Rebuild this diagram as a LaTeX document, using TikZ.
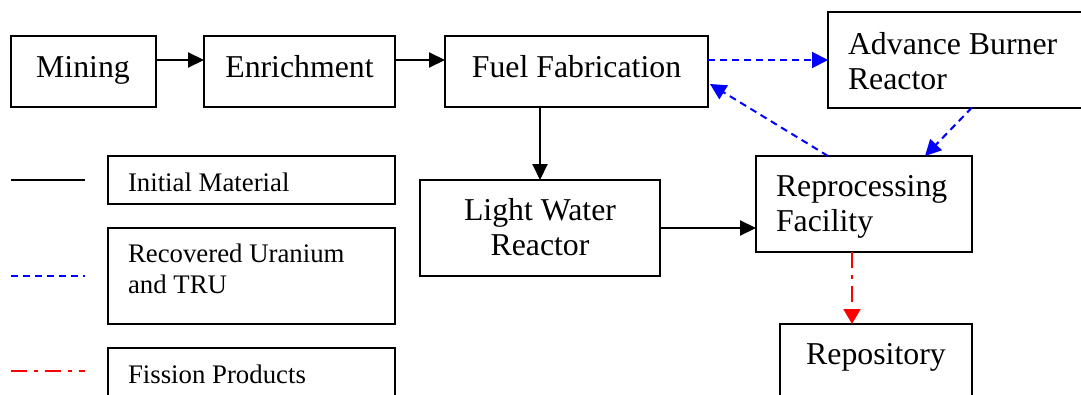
\documentclass[tikz,border=0pt]{standalone}
\usepackage{fontspec}
\setmainfont{Liberation Serif}
\usetikzlibrary{arrows.meta}
\begin{document}
\begin{tikzpicture}[x=1pt,y=-1pt,
  box/.style={draw=black, line width=2pt, rectangle, inner sep=0pt, outer sep=0pt},
  big/.style={font=\fontsize{31.8}{35.8}\selectfont, inner sep=0pt, outer sep=0pt},
  small/.style={font=\fontsize{26.8}{31}\selectfont, inner sep=0pt, outer sep=0pt},
  solidarrow/.style={draw=black, line width=2pt, -{Triangle[length=16pt,width=15pt]}},
  bluearrow/.style={draw=blue, line width=2pt, dash pattern=on 7pt off 5pt, -{Triangle[length=16pt,width=16pt]}},
  redarrow/.style={draw=red, line width=2pt, dash pattern=on 16pt off 7pt on 4pt off 7pt, -{Triangle[length=15pt,width=17pt]}},
  solidline/.style={draw=black, line width=2pt},
  blueline/.style={draw=blue, line width=2pt, dash pattern=on 7pt off 5pt},
  redline/.style={draw=red, line width=2pt, dash pattern=on 16pt off 7pt on 4pt off 7pt},
]
\useasboundingbox (0,0) rectangle (1081,394);
\fill[white] (0,0) rectangle (1081,394);

% process boxes
\node[box, minimum width=145pt, minimum height=71pt] (mining) at (83.5,71.5) {};
\node[box, minimum width=191pt, minimum height=71pt] (enrich) at (299.5,71.5) {};
\node[box, minimum width=263pt, minimum height=71pt] (fuel) at (576.5,71.5) {};
\node[box, minimum width=262pt, minimum height=95.5pt] (abr) at (959,59.75) {};
\node[box, minimum width=216pt, minimum height=96pt] (repro) at (864,204) {};
\node[box, minimum width=240pt, minimum height=96pt] (lwr) at (540,228) {};
\node[box, minimum width=192pt, minimum height=96pt] (repo) at (876,372) {};

% legend boxes
\node[box, minimum width=287pt, minimum height=48pt] (leg1) at (251.5,180) {};
\node[box, minimum width=287pt, minimum height=96pt] (leg2) at (251.5,276) {};
\node[box, minimum width=287pt, minimum height=72pt] (leg3) at (251.5,384) {};

% texts
\node[big, anchor=base] (tmining) at (83,77) {Mining};
\node[big, anchor=base] (tenrich) at (299.5,77) {Enrichment};
\node[big, anchor=base] (tfuel) at (576.5,77) {Fuel Fabrication};
\node[big, anchor=base west] (tabr) at (848,54) {\begin{tabular}[t]{@{}l@{}}Advance Burner\\Reactor\end{tabular}};
\node[big, anchor=base west] (trepro) at (776,196) {\begin{tabular}[t]{@{}l@{}}Reprocessing\\Facility\end{tabular}};
\node[big, anchor=base] (tlwr) at (540,220) {\begin{tabular}[t]{@{}c@{}}Light Water\\Reactor\end{tabular}};
\node[big, anchor=base] (trepo) at (876,364) {Repository};
\node[small, anchor=base west] (tleg1) at (128,191) {Initial Material};
\node[small, anchor=base west] (tleg2) at (128,262) {\begin{tabular}[t]{@{}l@{}}Recovered Uranium\\and TRU\end{tabular}};
\node[small, anchor=base west] (tleg3) at (128,383) {Fission Products};

% connectors
\draw[solidarrow] ([yshift=11.5pt]mining.east) -- ([yshift=11.5pt]enrich.west);
\draw[solidarrow] ([yshift=11.5pt]enrich.east) -- ([yshift=11.5pt]fuel.west);
\draw[solidarrow] (lwr.north |- fuel.south) -- (lwr.north);
\draw[solidarrow] (lwr.east) -- (lwr.east -| repro.west);
\draw[bluearrow] ([yshift=11.5pt]fuel.east) -- ([yshift=11.5pt]fuel.east -| abr.west);
\draw[bluearrow] ([xshift=-36pt]repro.north) -- ([xshift=2pt,yshift=-12.5pt]fuel.east);
\draw[bluearrow] ([xshift=13pt]abr.south) -- ([xshift=61pt]repro.north);
\draw[redarrow] ([xshift=-12pt]repro.south) -- ([xshift=-12pt]repro.south |- repo.north);

% legend lines
\coordinate (l1a) at (11,180); \coordinate (l1b) at (85,180);
\coordinate (l2a) at (11,276); \coordinate (l2b) at (85,276);
\coordinate (l3a) at (11,371); \coordinate (l3b) at (85,371);
\draw[solidline] (l1a) -- (l1b);
\draw[blueline] (l2a) -- (l2b);
\draw[redline] (l3a) -- (l3b);
\end{tikzpicture}
\end{document}
